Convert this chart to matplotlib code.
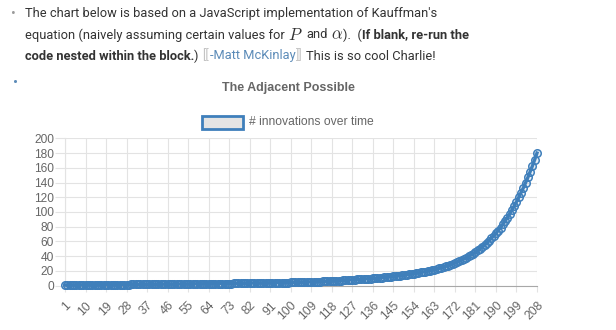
import matplotlib
matplotlib.use("Agg")
import matplotlib.pyplot as plt
from matplotlib.patches import Rectangle

plt.rcParams['mathtext.fontset'] = 'cm'

# innovations per time step
innovations = [
    1.00, 1.02, 1.04, 1.07, 1.09, 1.11, 1.13, 1.16, 1.18, 1.20,
    1.22, 1.24, 1.27, 1.29, 1.31, 1.33, 1.36, 1.38, 1.40,
    1.42, 1.44, 1.47, 1.49, 1.51, 1.53, 1.56, 1.58, 1.60,
    1.62, 1.64, 1.67, 1.69, 1.71, 1.73, 1.76, 1.78, 1.80,
    1.82, 1.84, 1.87, 1.89, 1.91, 1.93, 1.96, 1.98, 2.00,
    2.03, 2.07, 2.10, 2.13, 2.17, 2.20, 2.23, 2.27, 2.30,
    2.33, 2.37, 2.40, 2.43, 2.47, 2.50, 2.53, 2.57, 2.60,
    2.63, 2.67, 2.70, 2.73, 2.77, 2.80, 2.83, 2.87, 2.90,
    2.94, 2.99, 3.03, 3.08, 3.12, 3.17, 3.21, 3.26, 3.30,
    3.35, 3.41, 3.46, 3.52, 3.57, 3.63, 3.69, 3.74, 3.80,
    3.86, 3.93, 4.00, 4.06, 4.13, 4.20, 4.27, 4.33, 4.40,
    4.47, 4.55, 4.62, 4.70, 4.78, 4.86, 4.94, 5.02, 5.10,
    5.22, 5.35, 5.47, 5.60, 5.73, 5.87, 6.01, 6.15, 6.30,
    6.48, 6.66, 6.85, 7.04, 7.24, 7.45, 7.66, 7.88, 8.10,
    8.28, 8.47, 8.66, 8.86, 9.06, 9.26, 9.47, 9.68, 9.90,
    10.17, 10.44, 10.73, 11.02, 11.32, 11.62, 11.94, 12.26, 12.60,
    12.97, 13.34, 13.73, 14.13, 14.54, 14.96, 15.39, 15.84, 16.30,
    16.83, 17.37, 17.93, 18.51, 19.11, 19.73, 20.37, 21.02, 21.70,
    22.54, 23.41, 24.31, 25.24, 26.22, 27.23, 28.28, 29.37, 30.50,
    31.89, 33.33, 34.85, 36.43, 38.09, 39.82, 41.63, 43.52, 45.50,
    47.81, 50.23, 52.78, 55.45, 58.26, 61.22, 64.32, 67.58, 71.00,
    74.84, 78.88, 83.14, 87.63, 92.37, 97.36, 102.62, 108.16, 114.00,
    119.93, 126.18, 132.74, 139.65, 146.92, 154.57, 162.62, 171.08, 180.00,
]
steps = [str(i) for i in range(1, len(innovations) + 1)]
y_ticks = [0, 20, 40, 60, 80, 100, 120, 140, 160, 180, 200]

W, H = 616, 330
blue = '#3f7fbb'
grid = '#e3e3e3'
txt = '#333333'
chart_txt = '#666666'
body_font = ['Roboto', 'DejaVu Sans']
chart_font = ['Liberation Sans', 'DejaVu Sans']

fig = plt.figure(figsize=(W / 100, H / 100), dpi=100)
renderer = fig.canvas.get_renderer()


def fx(px):
    return px / W


def fy(py):
    return 1 - py / H


# body size: first line about as wide as in the picture (a touch wider, for height)
probe = fig.text(0, 0, "The chart below is based on a JavaScript implementation of Kauffman's",
                 fontsize=10, family=body_font)
body_size = 10 * 402 / probe.get_window_extent(renderer=renderer).width * 1.03
probe.remove()


def write_runs(x, y, parts):
    # draw text pieces one after another on the same line
    for s, style, gap in parts:
        kw = dict(fontsize=body_size, color=txt, family=body_font, va='center')
        kw.update(style)
        t = fig.text(fx(x), fy(y), s, **kw)
        bb = t.get_window_extent(renderer=renderer)
        x = bb.x1 + gap


sp = 3.5
fig.text(fx(13), fy(14), '•', fontsize=10, color='#9a9a9a', ha='center', va='center', family=body_font)
write_runs(25, 14, [("The chart below is based on a JavaScript implementation of Kauffman's", {}, 0)])
write_runs(25, 35, [
    ("equation (naively assuming certain values for", {}, sp),
    ("$P$", {'fontsize': body_size * 1.3}, sp),
    ("and", {}, sp),
    (r"$\alpha$", {'fontsize': body_size * 1.3}, 0),
    (").  (", {}, 0),
    ("If blank, re-run the", {'fontweight': 'bold'}, 0),
])
write_runs(25, 56, [
    ("code nested within the block.", {'fontweight': 'bold'}, 0),
    (")", {}, sp),
    ("[[", {'color': '#c4c4c4'}, 0.5),
    ("-Matt McKinlay", {'color': '#5b8bb8'}, 0.5),
    ("]]", {'color': '#c4c4c4'}, sp),
    ("This is so cool Charlie!", {}, 0),
])
fig.text(fx(16), fy(83), '•', fontsize=11, color='#5b8bb8', ha='center', va='center', family=body_font)

# chart title and legend
fig.text(fx(288), fy(88), 'The Adjacent Possible', fontsize=9, fontweight='bold',
         color=chart_txt, ha='center', va='center', family=chart_font)
fig.add_artist(Rectangle((fx(202), fy(129)), fx(41), 13 / H, transform=fig.transFigure,
                         facecolor='#e4e4e4', edgecolor=blue, linewidth=2))
fig.text(fx(249), fy(122), '# innovations over time', fontsize=8.7,
         color=chart_txt, ha='left', va='center', family=chart_font)

ax = fig.add_axes([fx(65), fy(285.7), fx(537) - fx(65), (285.7 - 138.3) / H])
x = list(range(len(innovations)))
ax.plot(x, innovations, color=blue, linewidth=2.4, marker='o', markersize=5.4,
        markerfacecolor=(0.25, 0.5, 0.73, 0.12), markeredgecolor=blue,
        markeredgewidth=1.1, clip_on=False, zorder=3)

ax.set_xlim(0, len(innovations) - 1)
ax.set_ylim(0, 200)
ax.set_yticks(y_ticks)
ax.set_yticklabels([str(v) for v in y_ticks])
ax.set_xticks(x[::9])
ax.set_xticklabels(steps[::9], rotation=45, ha='right', va='top', rotation_mode='anchor')

ax.grid(True, color=grid, linewidth=0.8)
ax.set_axisbelow(True)
for s in ['top', 'right']:
    ax.spines[s].set_visible(False)
ax.spines['left'].set_color(grid)
ax.spines['bottom'].set_color('#a8a8a8')
ax.tick_params(axis='y', length=7, color=grid, pad=1, labelsize=8.6, labelcolor=chart_txt)
ax.tick_params(axis='x', length=4, color=grid, pad=6, labelsize=8.8, labelcolor=chart_txt)
for lab in ax.get_xticklabels() + ax.get_yticklabels():
    lab.set_family(chart_font)

fig.savefig('out.png', dpi=100)
